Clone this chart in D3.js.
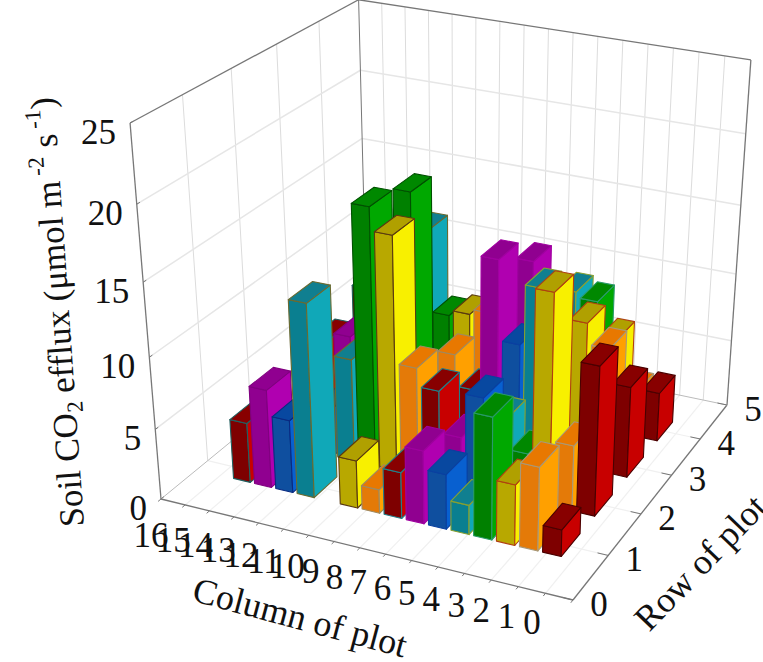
<!DOCTYPE html>
<html>
<head>
  <meta charset="utf-8">
  <script src="https://d3js.org/d3.v7.min.js"></script>
  <style>
  html, body { margin: 0; padding: 0; background: #fff; overflow: hidden; }
  text { font-family: "Liberation Serif", serif; fill: #111; }
  </style>
</head>
<body>
<script>
var colTicks = d3.range(0, 17);
var rowTicks = d3.range(0, 6);
var zTicks = [0, 5, 10, 15, 20, 25];

// one height per bar column, right to left; null = no bar there
var row1 = [1.9, 5.9, 4.3, 8.6, 2.1, 3.9, 5.2, 3.3, 1.7, 3.4, null, 13.6, 5.2, 7, 4.3];
var row2 = [10.6, 4.7, 14.9, 3.4, 5.5, 6.7, 3.5, 6.5, 7.8, 16.6, 18.2, 7.4, 3.5, null, null];
var row3 = [6.6, 9, 10.5, null, 12.3, 8, 13.7, 4, 6.3, null, 17.2, null, null, 6, 5.5];
var row4 = [3.6, 3.4, 7, 9.4, 9.8, null, 11.4, null, 7, 6.6, 6.2, 12.2, null, null, 7];
var rowValues = [row1, row2, row3, row4];
var rowPositions = [1.03, 2, 3, 4];

var sideColors = ['#7e0000', '#e47a08', '#b8a800', '#008000', '#0a7f90', '#0f4f9f', '#900090'];
var faceColors = ['#c80000', '#ffa000', '#f8f000', '#00a800', '#10a8b8', '#0860d0', '#b000b0'];
var topColors = ['#880000', '#e87800', '#b0a000', '#008800', '#107f90', '#0848a0', '#900090'];
var edgeColors = ['#4a0000', '#a89878', '#b04010', '#2a9a6a', '#88a030', '#0a40a0', '#a000a0',
  '#20808a', '#a08a60', '#5a3a10', '#005000', '#6a6a30', '#0a2a80', '#800080', '#206060'];

var width = 763, height = 662;

var svg = d3.select('body').append('svg')
  .attr('width', width)
  .attr('height', height);

// unit cube scales
var colScale = d3.scaleLinear().domain([16, 0]).range([0, 1]);
var rowScale = d3.scaleLinear().domain([0, 5]).range([0, 1]);
var zScale = d3.scaleLinear().domain([0, 25]).range([0, 1]);
// bar column index -> position along the column axis
var barCol = d3.scaleLinear().domain([0, 14]).range([1.8, 14.1]);

// floor corners and vertical vanishing point of the plot box
var A = [161, 499], B = [573, 600], C = [727, 405], D = [367, 330];
var vanish = [465, 4194];
var topA = 123;

// square to quad homography
var dx1 = B[0] - C[0], dx2 = D[0] - C[0], sx = A[0] - B[0] + C[0] - D[0];
var dy1 = B[1] - C[1], dy2 = D[1] - C[1], sy = A[1] - B[1] + C[1] - D[1];
var den = dx1 * dy2 - dx2 * dy1;
var g = (sx * dy2 - dx2 * sy) / den;
var h = (dx1 * sy - sx * dy1) / den;
var ha = B[0] - A[0] + g * B[0], hb = D[0] - A[0] + h * D[0];
var hd = B[1] - A[1] + g * B[1], he = D[1] - A[1] + h * D[1];
var k = (topA - A[1]) / (vanish[1] - topA);

function project(col, row, z) {
  var u = colScale(col), v = rowScale(row), t = zScale(z) * k;
  var w = g * u + h * v + 1 + t;
  return [(ha * u + hb * v + A[0] + t * vanish[0]) / w,
          (hd * u + he * v + A[1] + t * vanish[1]) / w];
}

var line = d3.line();

function seg(p, q, color, sw) {
  svg.append('path')
    .attr('d', line([p, q]))
    .attr('fill', 'none')
    .attr('stroke', color)
    .attr('stroke-width', sw);
}

// floor grid
colTicks.slice(1, 16).forEach(function(c) {
  seg(project(c, 0, 0), project(c, 5, 0), '#f0f0f0', 1.2);
});
rowTicks.slice(1, 5).forEach(function(r) {
  seg(project(0, r, 0), project(16, r, 0), '#f0f0f0', 1.2);
});
// back and left walls
colTicks.slice(1, 16).forEach(function(c) {
  seg(project(c, 5, 0), project(c, 5, 25), '#dcdcdc', 1);
});
rowTicks.slice(1, 5).forEach(function(r) {
  seg(project(16, r, 0), project(16, r, 25), '#dcdcdc', 1);
});
zTicks.slice(1, 5).forEach(function(z) {
  seg(project(0, 5, z), project(16, 5, z), '#e6e6e6', 1.5);
  seg(project(16, 5, z), project(16, 0, z), '#e6e6e6', 1.5);
});

// plot box
var frame = '#777';
seg(project(16, 0, 0), project(16, 0, 25), frame, 1.3);
seg(project(16, 0, 25), project(16, 5, 25), frame, 1.3);
seg(project(16, 5, 25), project(0, 5, 25), frame, 1.3);
seg(project(0, 5, 25), project(0, 5, 0), frame, 1.3);
seg(project(16, 5, 25), project(16, 5, 0), frame, 1);
seg(project(16, 0, 0), project(0, 0, 0), frame, 1.3);
seg(project(0, 0, 0), project(0, 5, 0), frame, 1.3);
seg(project(16, 0, 0), project(16, 5, 0), '#bbb', 1);
seg(project(16, 5, 0), project(0, 5, 0), '#bbb', 1);

// tick marks
colTicks.forEach(function(c) {
  seg(project(c, 0, 0), project(c, -0.06, 0), frame, 1);
});
rowTicks.forEach(function(r) {
  seg(project(0, r, 0), project(0.4, r, 0), frame, 1);
});
zTicks.forEach(function(z) {
  seg(project(16, 0, z), project(16, 0.06, z), frame, 1);
});

// bars, far ones first
var halfCol = 0.35, halfRow = 0.27;

function poly(pts, fill, stroke) {
  svg.append('path')
    .attr('class', 'bar')
    .attr('d', line(pts) + 'Z')
    .attr('fill', fill)
    .attr('stroke', stroke)
    .attr('stroke-width', 1.1)
    .attr('stroke-linejoin', 'round');
}

for (var r = rowValues.length - 1; r >= 0; r--) {
  for (var i = 14; i >= 0; i--) {
    var v = rowValues[r][i];
    if (v === null) continue;
    var c0 = barCol(i) - halfCol, c1 = barCol(i) + halfCol;
    var r0 = rowPositions[r] - halfRow, r1 = rowPositions[r] + halfRow;
    var ci = i % 7;
    // side toward row 0
    poly([project(c0, r0, 0), project(c1, r0, 0), project(c1, r0, v), project(c0, r0, v)], sideColors[ci], edgeColors[i]);
    // side toward column 0
    poly([project(c0, r0, 0), project(c0, r1, 0), project(c0, r1, v), project(c0, r0, v)], faceColors[ci], edgeColors[i]);
    // lid
    poly([project(c0, r0, v), project(c1, r0, v), project(c1, r1, v), project(c0, r1, v)], topColors[ci], edgeColors[i]);
  }
}

// tick labels
var fontSize = 35;
var colDx = d3.scaleLinear().domain([0, 16]).range([-41, -10]);
var colDy = d3.scaleLinear().domain([0, 16]).range([34, 48]);

svg.selectAll('.collabel').data(colTicks).enter().append('text')
  .attr('class', 'collabel')
  .attr('text-anchor', 'middle')
  .attr('font-size', fontSize)
  .attr('x', function(d) { return project(d, 0, 0)[0] + colDx(d); })
  .attr('y', function(d) { return project(d, 0, 0)[1] + colDy(d); })
  .text(function(d) { return d; });

svg.selectAll('.rowlabel').data(rowTicks).enter().append('text')
  .attr('class', 'rowlabel')
  .attr('text-anchor', 'middle')
  .attr('font-size', fontSize)
  .attr('x', function(d) { return project(0, d, 0)[0] + 26; })
  .attr('y', function(d) { return project(0, d, 0)[1] + 16; })
  .text(function(d) { return d; });

svg.selectAll('.zlabel').data(zTicks).enter().append('text')
  .attr('class', 'zlabel')
  .attr('text-anchor', 'end')
  .attr('font-size', fontSize)
  .attr('x', function(d) { return project(16, 0, d)[0] - 14; })
  .attr('y', function(d) { return project(16, 0, d)[1] + 21; })
  .text(function(d) { return d; });

// axis titles
svg.append('text')
  .attr('text-anchor', 'middle')
  .attr('font-size', 36)
  .attr('transform', 'translate(297,629) rotate(15)')
  .text('Column of plot');

svg.append('text')
  .attr('text-anchor', 'middle')
  .attr('font-size', 36)
  .attr('transform', 'translate(709,571) rotate(-46)')
  .text('Row of plot');

var ytitle = svg.append('text')
  .attr('font-size', fontSize)
  .attr('transform', 'translate(84,526) rotate(-94)');
ytitle.append('tspan').text('Soil CO');
ytitle.append('tspan').attr('font-size', 23).attr('dy', 7).text('2');
ytitle.append('tspan').attr('dy', -7).text(' efflux (\u03bcmol m');
ytitle.append('tspan').attr('font-size', 23).attr('dy', -15).text(' -2');
ytitle.append('tspan').attr('dy', 15).text(' s');
ytitle.append('tspan').attr('font-size', 23).attr('dy', -15).text(' -1');
ytitle.append('tspan').attr('dy', 15).text(')');
</script>
</body>
</html>
